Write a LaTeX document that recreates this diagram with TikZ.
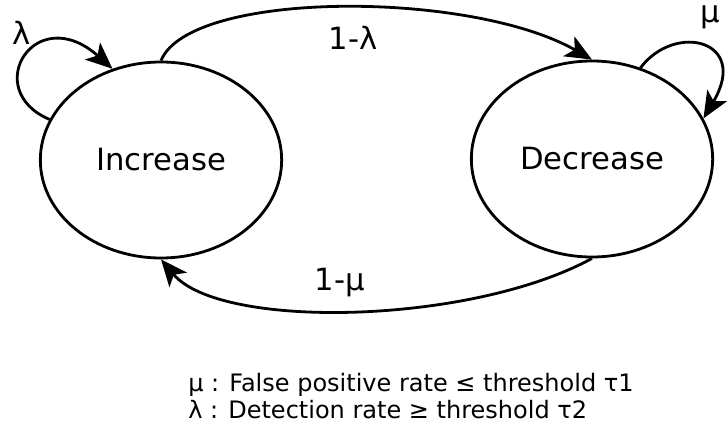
\documentclass[tikz,border=0pt]{standalone}
\usepackage{fontspec}
\setmainfont{DejaVu Sans}
\usetikzlibrary{arrows.meta,shapes.geometric}

\begin{document}
\begin{tikzpicture}[
    x=0.75pt, y=-0.75pt,
    stateNode/.style={
        ellipse, draw=black, line width=2.1pt, inner sep=0pt,
        minimum width=181pt, minimum height=147pt,
        font=\fontsize{23}{27}\selectfont
    },
    edgeLabel/.style={font=\fontsize{23}{27}\selectfont, inner sep=1pt},
    legend/.style={font=\fontsize{18}{20.5}\selectfont, align=left, anchor=west, inner sep=0pt},
    arrow/.style={-{Stealth[length=20pt,width=17pt,inset=5pt]}, line width=2.1pt, draw=black}
]
\useasboundingbox (0,0) rectangle (727,438);

\node[stateNode] (inc) at (161,160) {Increase};
\node[stateNode] (dec) at (592,159) {Decrease};

% transitions between the two states
\draw[arrow] (inc.north) .. controls (190,-10) and (470,-10) .. (dec.north);
\draw[arrow] (dec.south) .. controls (470,325) and (220,330) .. (inc.south);

% self loops
\draw[arrow] (inc.160) .. controls (-20,90) and (35,0) .. (inc.118);
\draw[arrow] (dec.62) .. controls (675,22) and (750,40) .. (dec.20);

\node[edgeLabel] (lamSelf)  at (22,33)   {λ};
\node[edgeLabel] (muSelf)   at (710,17)  {μ};
\node[edgeLabel] (lamCross) at (353,38)  {1-λ};
\node[edgeLabel] (muCross)  at (340,283) {1-μ};

\node[legend] (key) at (188,396) {μ : False positive rate ≤ threshold τ1\\λ : Detection rate ≥ threshold τ2};

\end{tikzpicture}
\end{document}
